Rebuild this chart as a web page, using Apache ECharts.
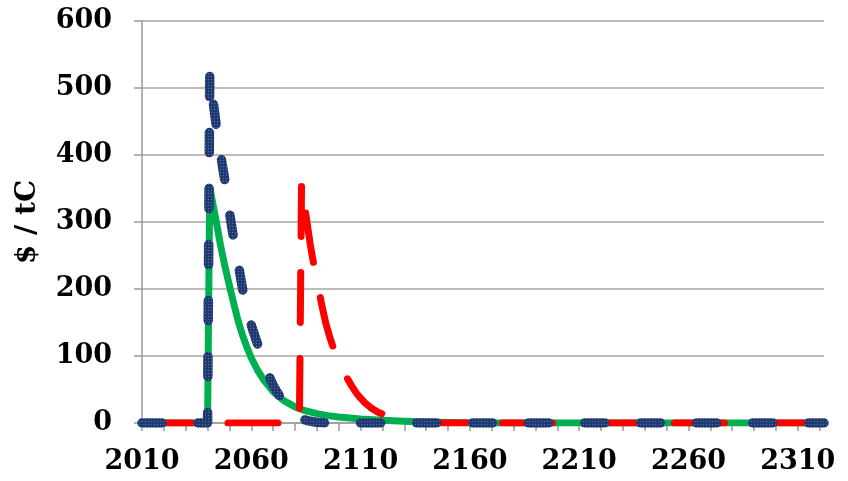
<!DOCTYPE html>
<html>
<head>
<meta charset="utf-8">
<script src="https://cdn.jsdelivr.net/npm/echarts@6/dist/echarts.min.js"></script>
<style>
html,body{margin:0;padding:0;background:#fff;}
#chart{width:848px;height:481px;}
</style>
</head>
<body>
<div id="chart"></div>
<script>
// ---- data ----
const greenSeries = [
  [2010,0],[2040,0],[2041,352],[2042,334],[2043,317],[2044,300],[2046,264],[2048,233],
  [2050,205],[2052,178],[2054,152],[2056,131],[2058,113],[2060,97],[2063,78],[2066,63],
  [2070,47],[2075,33],[2080,24],[2085,18],[2090,14],[2095,11],[2100,9],[2110,6],
  [2120,4],[2130,2.5],[2140,1.5],[2150,0.8],[2160,0.4],[2170,0],[2322,0]
];
const redSeries = [
  [2010,0],[2082,0],[2083,360],[2084,335],[2085,310],[2086,288],[2087,266],[2088,247],
  [2089,230],[2090,214],[2091,198],[2092,180],[2094,150],[2096,127],[2098,108],[2100,92],
  [2102,78],[2104,66],[2106,55],[2108,45],[2110,37],[2112,30],[2115,22],[2118,16],
  [2121,12],[2124,9],[2127,6],[2130,3],[2133,1.5],[2136,0.5],[2140,0],[2322,0]
];
const blueSeries = [
  [2010,0],[2040,0],[2041,523],[2042,495],[2043,468],[2044,443],[2045,420],[2046,400],
  [2047,380],[2048,360],[2049,336],[2050,314],[2052,274],[2054,238],[2056,200],[2058,170],
  [2060,146],[2062,126],[2064,107],[2066,88],[2068,71],[2070,56],[2072,45],[2074,35],
  [2076,26],[2078,19],[2080,14],[2082,9],[2085,4],[2090,1],[2095,0],[2322,0]
];
const xTickValues = [2010,2020,2030,2040,2050,2060,2070,2080,2090,2100,2110,2120,2130,2140,2150,2160,
  2170,2180,2190,2200,2210,2220,2230,2240,2250,2260,2270,2280,2290,2300,2310,2320];
const xLabelValues = [2010,2060,2110,2160,2210,2260,2310];
const yAxisTitle = '$ / tC';

// dotted navy texture for the blue series
function makePattern(){
  const c = document.createElement('canvas');
  c.width = 3; c.height = 3;
  const g = c.getContext('2d');
  g.fillStyle = '#1f3a70'; g.fillRect(0,0,3,3);
  g.fillStyle = '#5d72a8'; g.fillRect(1,1,1,1);
  return c;
}

const chart = echarts.init(document.getElementById('chart'), null, {renderer:'canvas'});
const font = 'DejaVu Serif';
chart.setOption({
  animation:false,
  grid:{left:142,right:24,top:21,bottom:58,containLabel:false,outerBoundsMode:'none'},
  xAxis:{
    type:'value', min:2010, max:2322,
    axisLine:{show:true,lineStyle:{color:'#9a9a9a',width:1.5}},
    axisTick:{show:true,customValues:xTickValues,length:8,lineStyle:{color:'#9a9a9a',width:1.5}},
    axisLabel:{customValues:xLabelValues,margin:25,color:'#000',fontFamily:font,fontSize:27,fontWeight:'bold',
      formatter:v=>String(v)},
    splitLine:{show:false}
  },
  yAxis:{
    type:'value', min:0, max:600, interval:100,
    name:yAxisTitle, nameLocation:'middle', nameGap:100, nameRotate:90,
    nameTextStyle:{fontFamily:font,fontWeight:'bold',fontSize:28,color:'#000'},
    axisLine:{show:true,lineStyle:{color:'#9a9a9a',width:1.5}},
    axisTick:{show:true,length:8,lineStyle:{color:'#9a9a9a',width:1.5}},
    axisLabel:{margin:30,color:'#000',fontFamily:font,fontSize:27,fontWeight:'bold'},
    splitLine:{show:true,lineStyle:{color:'#a6a6a6',width:1.5}}
  },
  series:[
    {type:'line',data:greenSeries,showSymbol:false,symbol:'none',
     lineStyle:{color:'#00B050',width:7,cap:'round',join:'round'}},
    {type:'line',data:redSeries,showSymbol:false,symbol:'none',
     lineStyle:{color:'#FF0000',width:7,type:[50,36],cap:'round',join:'round'}},
    {type:'line',data:blueSeries,showSymbol:false,symbol:'none',
     lineStyle:{color:{image:makePattern(),repeat:'repeat'},width:9.5,type:[20,36],cap:'round',join:'round'}}
  ]
});
</script>
</body>
</html>
